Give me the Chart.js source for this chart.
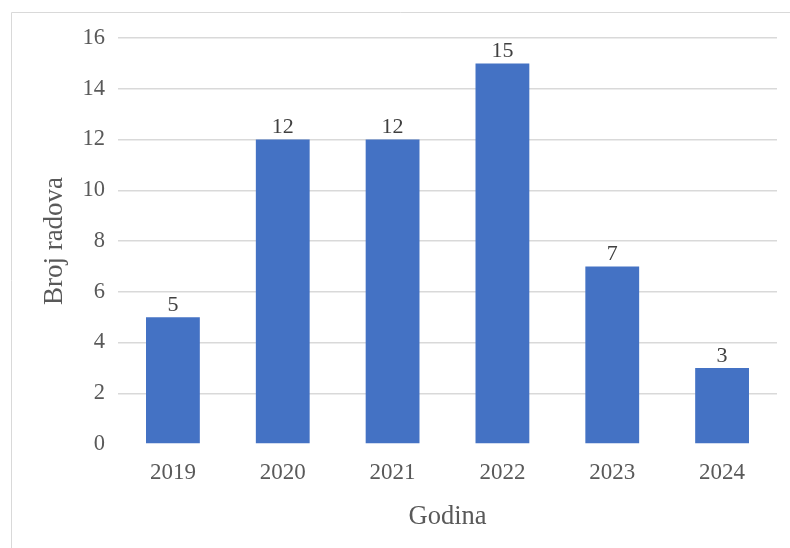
<!DOCTYPE html>
<html>
<head>
<meta charset="utf-8">
<script src="https://cdn.jsdelivr.net/npm/chart.js@4.4.1/dist/chart.umd.min.js"></script>
<style>
  html, body { margin: 0; padding: 0; background: #fff; }
  #wrap { width: 790px; height: 548px; position: relative; }
</style>
</head>
<body>
<div id="wrap"><canvas id="radoviChart" width="790" height="548"></canvas></div>
<script>
const godine = ["2019", "2020", "2021", "2022", "2023", "2024"];
const brojRadova = [5, 12, 12, 15, 7, 3];
const yMin = 0;
const yMax = 16;
const yKorak = 2;

const serif = "'Liberation Serif', 'Times New Roman', serif";

// okvir oko grafikona (gornja i lijeva ivica)
const okvir = {
  id: "okvir",
  beforeDraw(chart) {
    const ctx = chart.ctx;
    ctx.save();
    ctx.strokeStyle = "#d9d9d9";
    ctx.lineWidth = 1;
    ctx.beginPath();
    ctx.moveTo(11.5, 548);
    ctx.lineTo(11.5, 12.5);
    ctx.lineTo(790, 12.5);
    ctx.stroke();
    ctx.restore();
  },
};

// vrijednosti iznad stubaca
const oznake = {
  id: "oznake",
  afterDatasetsDraw(chart) {
    const ctx = chart.ctx;
    const meta = chart.getDatasetMeta(0);
    ctx.save();
    ctx.font = "22px " + serif;
    ctx.fillStyle = "#404040";
    ctx.textAlign = "center";
    ctx.textBaseline = "bottom";
    meta.data.forEach((bar, i) => {
      ctx.fillText(String(brojRadova[i]), bar.x, bar.y - 1);
    });
    ctx.restore();
  },
};

new Chart(document.getElementById("radoviChart").getContext("2d"), {
  type: "bar",
  data: {
    labels: godine,
    datasets: [
      {
        label: "Broj radova",
        data: brojRadova,
        backgroundColor: "#4472C4",
        borderWidth: 0,
        barPercentage: 0.49,
        categoryPercentage: 1,
      },
    ],
  },
  options: {
    responsive: false,
    animation: false,
    devicePixelRatio: 1,
    layout: {
      padding: { left: 38.4, right: 13, top: 38, bottom: 15.4 },
    },
    plugins: {
      legend: { display: false },
      tooltip: { enabled: false },
    },
    scales: {
      x: {
        grid: { display: false, drawTicks: false },
        border: { display: false },
        ticks: {
          color: "#595959",
          font: { family: serif, size: 23 },
          padding: 15,
        },
        title: {
          display: true,
          text: "Godina",
          color: "#595959",
          font: { family: serif, size: 26.5 },
          padding: 0,
        },
        afterFit(scale) {
          scale.height = 104 - 15.4;
        },
      },
      y: {
        min: yMin,
        max: yMax,
        grid: {
          drawTicks: false,
          lineWidth: 1.5,
          color: (c) => (c.tick && c.tick.value === 0 ? "rgba(0,0,0,0)" : "#d9d9d9"),
        },
        border: { display: false },
        ticks: {
          stepSize: yKorak,
          color: "#595959",
          font: { family: serif, size: 22.5 },
          padding: 13,
        },
        title: {
          display: true,
          text: "Broj radova",
          color: "#595959",
          font: { family: serif, size: 27 },
          padding: 0,
        },
        afterFit(scale) {
          scale.width = 118 - 38.4;
        },
      },
    },
  },
  plugins: [okvir, oznake],
});
</script>
</body>
</html>
